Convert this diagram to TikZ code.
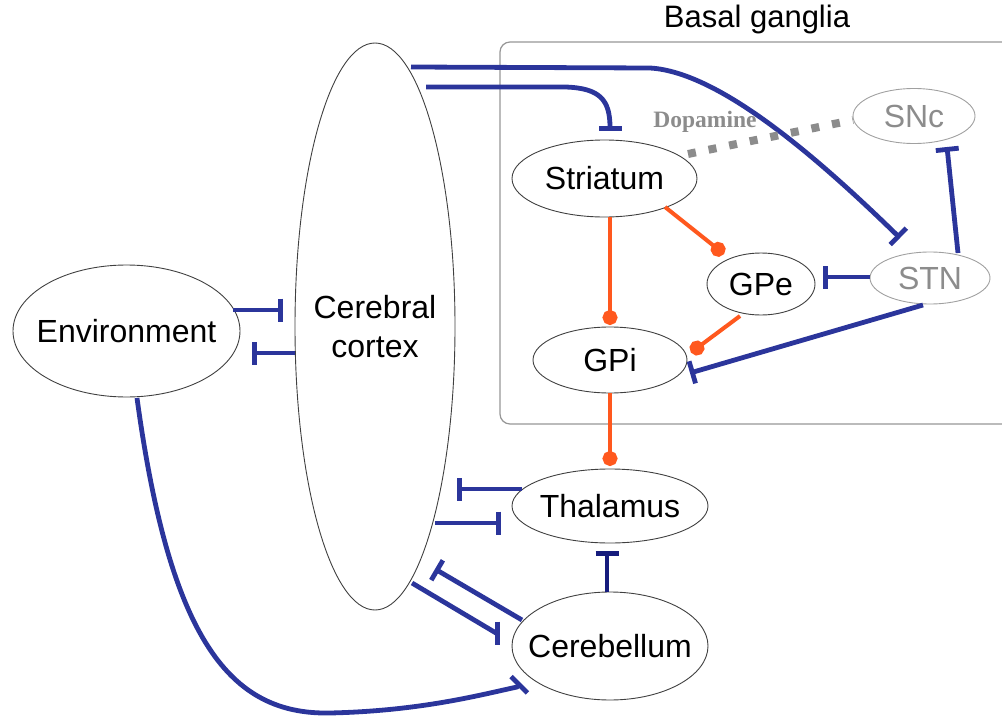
\documentclass[tikz,border=0pt]{standalone}
\usepackage{fontspec}
\setmainfont{Liberation Sans}
\newfontfamily\dopfont{Liberation Serif}
\usetikzlibrary{shapes.geometric,arrows.meta,calc}
\definecolor{cblue}{RGB}{43,53,155}
\definecolor{cnavy}{RGB}{22,28,125}
\definecolor{corange}{RGB}{255,88,30}
\definecolor{cgray}{RGB}{140,140,140}
\definecolor{boxgray}{RGB}{150,150,150}
\definecolor{ellgray}{RGB}{160,160,160}
\tikzset{
  ell/.style={ellipse, draw=black!75, line width=0.9pt, inner sep=0pt, outer sep=0pt},
  gell/.style={ellipse, draw=ellgray, line width=0.9pt, inner sep=0pt, outer sep=0pt, text=cgray},
  inh/.style={draw=cblue, line width=4.8pt, -{Bar[width=23pt]}},
  exc/.style={draw=corange, line width=4pt, -{Circle[length=15pt]}},
  dop/.style={draw=cgray, line width=8pt, dash pattern=on 8pt off 13pt},
}
\begin{document}
\begin{tikzpicture}[x=1pt,y=-1pt, font=\fontsize{32}{39}\selectfont]
\useasboundingbox (0,0) rectangle (1002,717);
% basal ganglia frame
\draw[boxgray, line width=1.2pt, rounded corners=10pt] (1040,42) -- (500,42) -- (500,424) -- (1040,424);
\node[anchor=base, font=\fontsize{31}{36}\selectfont] (title) at (757,28) {Basal ganglia};
% nodes
\node[ell, minimum width=227pt, minimum height=132pt, label={[name=envt]center:Environment}] (env) at (126.5,331) {};
\node[ell, minimum width=160pt, minimum height=567pt, label={[name=ctxt, align=center]center:Cerebral\\cortex}] (ctx) at (375,326.5) {};
\node[ell, minimum width=185pt, minimum height=77pt, label={[name=strt]center:Striatum}] (str) at (604.5,178.5) {};
\node[ell, minimum width=108pt, minimum height=62pt, label={[name=gpet]center:GPe}] (gpe) at (761,284) {};
\node[ell, minimum width=154pt, minimum height=66pt, label={[name=gpit]center:GPi}] (gpi) at (610,360) {};
\node[gell, minimum width=120pt, minimum height=52pt, label={[name=stnt, text=cgray]center:STN}] (stn) at (930,278) {};
\node[gell, minimum width=122pt, minimum height=55pt, label={[name=snct, text=cgray]center:SNc}] (snc) at (914,116) {};
\node[ell, minimum width=196pt, minimum height=74pt, label={[name=thalt]center:Thalamus}] (thal) at (610,506) {};
\node[ell, minimum width=196pt, minimum height=108pt, label={[name=cert]center:Cerebellum}] (cer) at (610,646) {};
% cortex <-> environment
\draw[inh] ($(env.center)+(106.5,-21)$) -- ($(ctx.center)+(-92,-16.5)$);
\draw[inh] ($(ctx.center)+(-80,26.5)$) -- ($(env.center)+(125.5,22)$);
% cortex -> striatum
\draw[inh] ($(ctx.center)+(51,-239.5)$) -- (565,87) .. controls (600,88) and (610,100) .. ($(str.center)+(5.5,-47.5)$);
% cortex -> STN
\draw[inh] ($(ctx.center)+(36,-259.5)$) -- (650,68) .. controls (720,72) and (820,160) .. ($(stn.center)+(-30,-40)$);
% dopamine
\draw[dop] ($(str.center)+(83.5,-24.5)$) -- ($(snc.center)+(-61,4)$);
\node[anchor=base, text=cgray, font=\dopfont\bfseries\fontsize{23.5}{28}\selectfont] (dopt) at (705,128) {Dopamine};
% STN projections
\draw[inh] ($(stn.center)+(28,-25)$) -- ($(snc.center)+(33,31)$);
\draw[inh] ($(stn.center)+(-60,-1)$) -- ($(gpe.center)+(62,-7)$);
\draw[inh] ($(stn.center)+(-7,27)$) -- ($(gpi.center)+(80,13)$);
% excitatory (orange) links
\draw[exc] ($(str.center)+(60.5,28.5)$) -- ($(gpe.center)+(-37,-30)$);
\draw[exc] ($(str.center)+(5.5,38.5)$) -- ($(gpi.center)+(0,-35)$);
\draw[exc] ($(gpe.center)+(-21,32)$) -- ($(gpi.center)+(81,-7.5)$);
\draw[exc] ($(gpi.center)+(0,33)$) -- ($(thal.center)+(0,-40)$);
% thalamus <-> cortex
\draw[inh] ($(thal.center)+(-88,-17)$) -- ($(ctx.center)+(82,162.5)$);
\draw[inh] ($(ctx.center)+(60,196.5)$) -- ($(thal.center)+(-109,17)$);
% cerebellum <-> cortex
\draw[inh] ($(cer.center)+(-88,-26)$) -- ($(ctx.center)+(60,242.5)$);
\draw[inh] ($(ctx.center)+(37,256.5)$) -- ($(cer.center)+(-114,-13)$) -- ($(cer.center)+(-110,-13)$);
% cerebellum -> thalamus
\draw[inh, draw=cnavy] ($(cer.center)+(-3,-54)$) -- ($(thal.center)+(-3,45)$);
% environment -> cerebellum
\draw[inh] ($(env.center)+(10.5,67)$) .. controls (170,640) and (230,715) .. (330,713)
  .. controls (420,711) and (480,695) .. ($(cer.center)+(-93,41)$) -- ($(cer.center)+(-89,37)$);
\end{tikzpicture}
\end{document}
